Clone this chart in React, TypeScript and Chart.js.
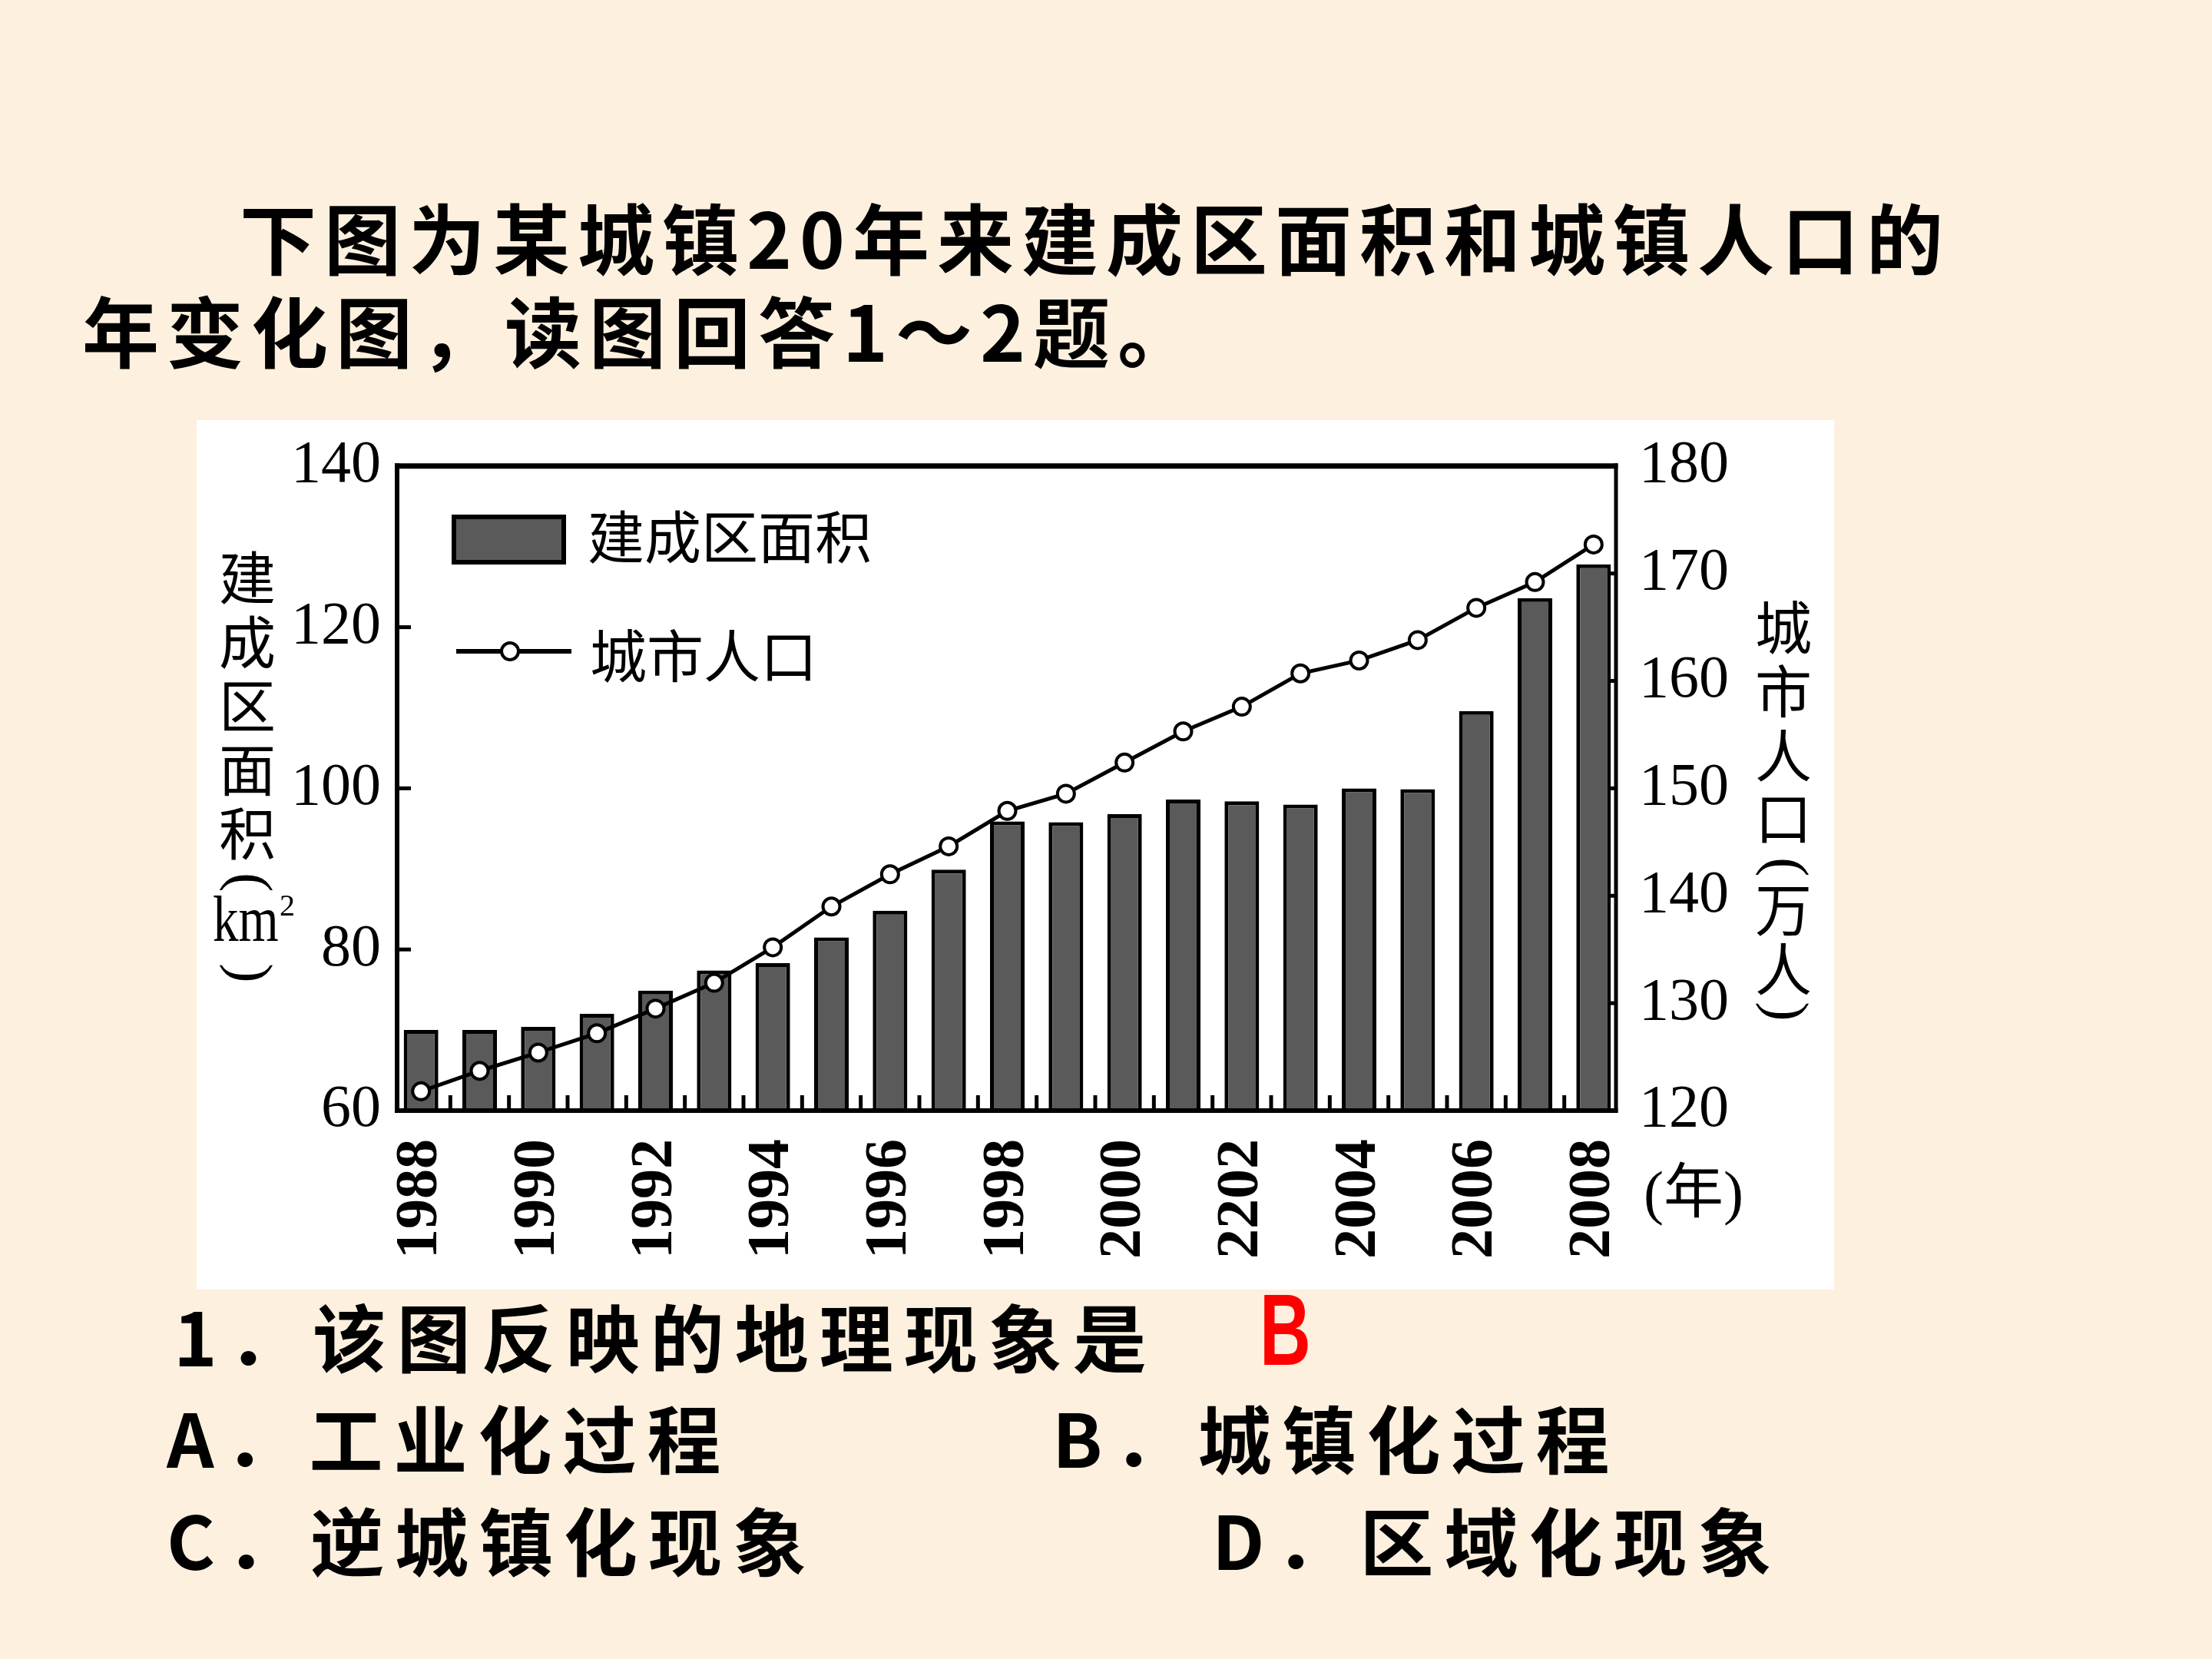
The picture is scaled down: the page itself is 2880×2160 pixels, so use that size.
import React, { useEffect, useRef } from 'react';
import { Chart, registerables } from 'chart.js';

Chart.register(...registerables);

// ---------- data ----------
const years = [
  '1988', '1989', '1990', '1991', '1992', '1993', '1994', '1995', '1996', '1997', '1998',
  '1999', '2000', '2001', '2002', '2003', '2004', '2005', '2006', '2007', '2008',
];
const xTickLabels = [
  '1988', '', '1990', '', '1992', '', '1994', '', '1996', '', '1998',
  '', '2000', '', '2202', '', '2004', '', '2006', '', '2008',
];
const builtArea = [
  70.0, 70.0, 70.4, 72.0, 74.9, 77.4, 78.3, 81.5, 84.8, 89.9, 95.9,
  95.8, 96.8, 98.6, 98.4, 98.0, 100.0, 99.9, 109.6, 123.6, 127.8,
];
const population = [
  121.8, 123.7, 125.4, 127.2, 129.5, 131.9, 135.2, 139.0, 142.0, 144.6, 147.9,
  149.5, 152.4, 155.3, 157.6, 160.7, 161.9, 163.8, 166.8, 169.2, 172.7,
];
const leftAxisRange = [60, 140];
const leftAxisStep = 20;
const rightAxisRange = [120, 180];
const rightAxisStep = 10;

const seriesNames = ['建成区面积', '城市人口'];
const leftTitleChars = ['建', '成', '区', '面', '积'];
const leftTitleUnit = 'km';
const rightTitleChars = ['城', '市', '人', '口'];
const rightTitleUnitChars = ['万', '人'];
const xUnitLabel = '(年)';

const headline1 = '下图为某城镇20年来建成区面积和城镇人口的';
const headline2 = '年变化图，读图回答1～2题。';
const question1 = '1．该图反映的地理现象是';
const answerMark = 'B';
const optionA = 'A．工业化过程';
const optionB = 'B．城镇化过程';
const optionC = 'C．逆城镇化现象';
const optionD = 'D．区域化现象';

// ---------- styles ----------
const CJK = "'Noto Sans CJK SC', 'Noto Sans CJK JP', sans-serif";
const SERIF = "'Liberation Serif', 'DejaVu Serif', serif";
const BAR_FILL = '#5a5a5a';
const PAGE_BG = '#fdf0de';

const PANEL = { left: 256, top: 547, width: 2132, height: 1132 };
const FRAME_INSET_L = 7;
const FRAME_INSET_R = 9;

const line = (ctx: CanvasRenderingContext2D, x1: number, y1: number, x2: number, y2: number) => {
  ctx.beginPath();
  ctx.moveTo(x1, y1);
  ctx.lineTo(x2, y2);
  ctx.stroke();
};

const framePlugin = {
  id: 'frameAndTicks',
  afterDatasetsDraw(chart: any) {
    const { ctx, chartArea: a, scales } = chart;
    const L = a.left + FRAME_INSET_L;
    const R = a.right - FRAME_INSET_R;
    const T = a.top;
    const B = a.bottom;
    ctx.save();
    ctx.strokeStyle = '#000';
    ctx.lineCap = 'butt';
    // frame
    ctx.lineWidth = 6;
    line(ctx, L, T - 3.5, L, B + 3);
    ctx.lineWidth = 7;
    line(ctx, L - 3, T, R + 2.5, T);
    ctx.lineWidth = 6;
    line(ctx, L - 3, B, R + 2.5, B);
    ctx.lineWidth = 5;
    line(ctx, R, T - 3.5, R, B + 3);
    // left ticks (inward)
    ctx.lineWidth = 5;
    const ys = scales.y;
    for (let v = leftAxisRange[0] + leftAxisStep; v < leftAxisRange[1]; v += leftAxisStep) {
      const y = ys.getPixelForValue(v);
      line(ctx, L, y, L + 18, y);
    }
    // right ticks (inward)
    const y1s = scales.y1;
    for (let v = rightAxisRange[0] + rightAxisStep; v < rightAxisRange[1]; v += rightAxisStep) {
      const y = y1s.getPixelForValue(v);
      line(ctx, R, y, R - 11, y);
    }
    // x ticks at category boundaries
    const xs = scales.x;
    for (let i = 0; i < years.length - 1; i++) {
      const x = (xs.getPixelForValue(i) + xs.getPixelForValue(i + 1)) / 2;
      line(ctx, x, B, x, B - 20);
    }
    ctx.restore();
  },
};

const decorPlugin = {
  id: 'legendAndTitles',
  afterDraw(chart: any) {
    const { ctx } = chart;
    ctx.save();
    ctx.fillStyle = '#000';
    ctx.strokeStyle = '#000';
    ctx.textBaseline = 'middle';

    // legend: bar
    ctx.fillStyle = BAR_FILL;
    ctx.fillRect(335, 126, 143, 59);
    ctx.lineWidth = 6;
    ctx.strokeRect(335, 126, 143, 59);
    ctx.fillStyle = '#000';
    ctx.font = `74px ${CJK}`;
    ctx.textAlign = 'left';
    ctx.fillText(seriesNames[0], 509, 152);
    // legend: line
    ctx.lineWidth = 6;
    line(ctx, 338, 301, 488, 301);
    ctx.beginPath();
    ctx.arc(408, 301, 11, 0, Math.PI * 2);
    ctx.fillStyle = '#fff';
    ctx.fill();
    ctx.lineWidth = 4;
    ctx.stroke();
    ctx.fillStyle = '#000';
    ctx.fillText(seriesNames[1], 512, 307);

    // left axis title (vertical)
    ctx.textAlign = 'center';
    ctx.font = `74px ${CJK}`;
    const leftYs = [201, 285, 368, 451, 534];
    leftTitleChars.forEach((c, i) => ctx.fillText(c, 66, leftYs[i] + 4));
    const rotParen = (ch: string, x: number, y: number) => {
      ctx.save();
      ctx.translate(x, y);
      ctx.rotate(Math.PI / 2);
      ctx.font = `76px ${SERIF}`;
      ctx.textAlign = 'center';
      ctx.textBaseline = 'middle';
      ctx.fillText(ch, 0, 0);
      ctx.restore();
    };
    rotParen('(', 66, 602);
    rotParen(')', 66, 720);
    ctx.save();
    ctx.translate(21, 678);
    ctx.scale(0.8, 1);
    ctx.font = `84px ${SERIF}`;
    ctx.textAlign = 'left';
    ctx.textBaseline = 'alphabetic';
    ctx.fillText(leftTitleUnit, 0, 0);
    ctx.restore();
    ctx.font = `40px ${SERIF}`;
    ctx.textAlign = 'left';
    ctx.textBaseline = 'top';
    ctx.fillText('2', 108, 614);

    // right axis title (vertical)
    ctx.textAlign = 'center';
    ctx.textBaseline = 'middle';
    ctx.font = `74px ${CJK}`;
    const rightYs = [266, 349, 433, 514];
    rightTitleChars.forEach((c, i) => ctx.fillText(c, 2066, rightYs[i] + 4));
    rotParen('(', 2066, 582);
    const rightUnitYs = [633, 711];
    ctx.font = `74px ${CJK}`;
    ctx.textAlign = 'center';
    ctx.textBaseline = 'middle';
    rightTitleUnitChars.forEach((c, i) => ctx.fillText(c, 2066, rightUnitYs[i] + 4));
    rotParen(')', 2066, 770);

    // x unit
    ctx.font = `78px ${SERIF}, ${CJK}`;
    ctx.textAlign = 'left';
    ctx.textBaseline = 'middle';
    ctx.fillText(xUnitLabel, 1884, 1012);
    ctx.restore();
  },
};

function ChartPanel() {
  const ref = useRef<HTMLCanvasElement | null>(null);
  useEffect(() => {
    if (!ref.current) return;
    const chart = new Chart(ref.current, {
      type: 'bar',
      data: {
        labels: years,
        datasets: [
          {
            type: 'line',
            label: seriesNames[1],
            data: population,
            yAxisID: 'y1',
            order: 0,
            borderColor: '#000',
            borderWidth: 5,
            tension: 0,
            pointRadius: 11,
            pointBorderWidth: 4,
            pointBackgroundColor: '#fff',
            pointBorderColor: '#000',
            fill: false,
          } as any,
          {
            type: 'bar',
            label: seriesNames[0],
            data: builtArea,
            yAxisID: 'y',
            order: 1,
            backgroundColor: BAR_FILL,
            borderColor: '#000',
            borderWidth: 5,
            barPercentage: 0.59,
            categoryPercentage: 1,
          } as any,
        ],
      },
      options: {
        responsive: false,
        animation: false,
        events: [],
        layout: { padding: { top: 50, left: 0, right: 0, bottom: 0 } },
        plugins: { legend: { display: false }, tooltip: { enabled: false } },
        scales: {
          x: {
            type: 'category',
            offset: true,
            grid: { display: false },
            border: { display: false },
            ticks: {
              autoSkip: false,
              minRotation: 90,
              maxRotation: 90,
              padding: 29,
              color: '#000',
              font: { family: SERIF, size: 78, weight: 'bold' },
              callback: (_v: any, i: number) => xTickLabels[i],
            },
            afterFit: (s: any) => { s.height = 233; },
          },
          y: {
            position: 'left',
            min: leftAxisRange[0],
            max: leftAxisRange[1],
            grid: { display: false },
            border: { display: false },
            ticks: {
              stepSize: leftAxisStep,
              padding: 6,
              color: '#000',
              font: { family: SERIF, size: 78 },
            },
            afterFit: (s: any) => { s.width = 254; },
          },
          y1: {
            position: 'right',
            min: rightAxisRange[0],
            max: rightAxisRange[1],
            grid: { display: false },
            border: { display: false },
            ticks: {
              stepSize: rightAxisStep,
              padding: 13,
              color: '#000',
              font: { family: SERIF, size: 78 },
            },
            afterFit: (s: any) => { s.width = 275; },
          },
        },
      } as any,
      plugins: [framePlugin, decorPlugin],
    });
    return () => chart.destroy();
  }, []);
  return (
    <canvas
      ref={ref}
      width={PANEL.width}
      height={PANEL.height}
      style={{ display: 'block', width: PANEL.width, height: PANEL.height }}
    />
  );
}

const textBase: React.CSSProperties = {
  position: 'absolute',
  fontFamily: CJK,
  fontWeight: 700,
  color: '#000',
  whiteSpace: 'nowrap',
};

export default function App() {
  const head: React.CSSProperties = { ...textBase, fontSize: 100, lineHeight: '100px', letterSpacing: 10 };
  const q: React.CSSProperties = { ...textBase, fontSize: 96, lineHeight: '96px', letterSpacing: 14 };
  return (
    <div
      style={{
        position: 'absolute',
        left: 0,
        top: 0,
        width: 2880,
        height: 2160,
        background: PAGE_BG,
        overflow: 'hidden',
      }}
    >
      <div style={{ ...head, left: 312, top: 257 }}>{headline1}</div>
      <div style={{ ...head, left: 107, top: 378 }}>{headline2}</div>
      <div
        style={{
          position: 'absolute',
          left: PANEL.left,
          top: PANEL.top,
          width: PANEL.width,
          height: PANEL.height,
          background: '#fff',
        }}
      >
        <ChartPanel />
      </div>
      <div style={{ ...q, left: 226, top: 1690 }}>{question1}</div>
      <div
        style={{
          position: 'absolute',
          left: 1640,
          top: 1666,
          fontFamily: "'Liberation Sans', Arial, sans-serif",
          fontWeight: 700,
          fontSize: 132,
          lineHeight: '132px',
          color: '#ff0000',
          transform: 'scaleX(0.7)',
          transformOrigin: 'left top',
        }}
      >
        {answerMark}
      </div>
      <div style={{ ...q, left: 217, top: 1822 }}>{optionA}</div>
      <div style={{ ...q, left: 1370, top: 1822 }}>{optionB}</div>
      <div style={{ ...q, left: 217, top: 1955 }}>{optionC}</div>
      <div style={{ ...q, left: 1578, top: 1955 }}>{optionD}</div>
    </div>
  );
}
